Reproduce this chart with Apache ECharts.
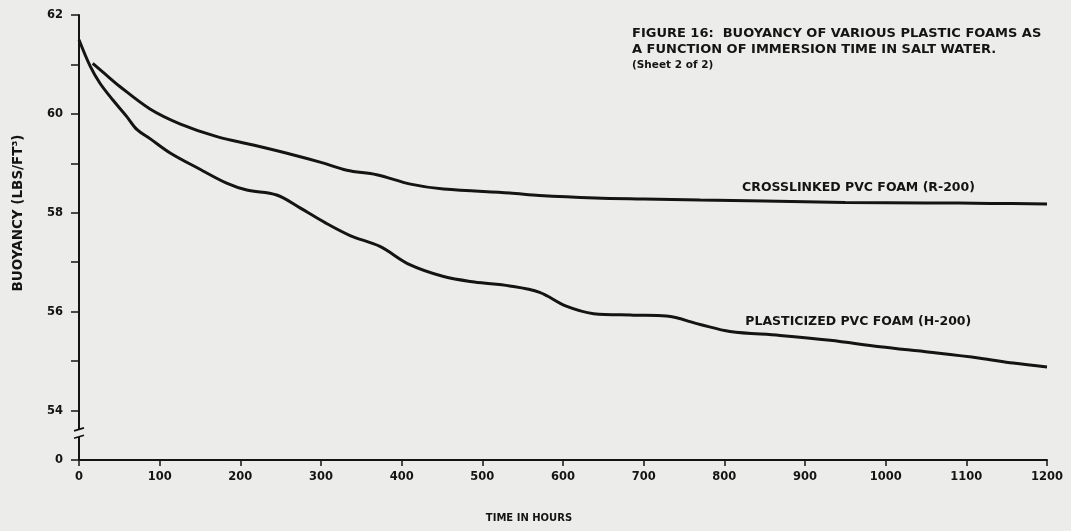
<!DOCTYPE html>
<html>
<head>
<meta charset="utf-8">
<script src="https://cdn.jsdelivr.net/npm/echarts@6/dist/echarts.min.js"></script>
<style>
  html, body { margin: 0; padding: 0; background: #ececea; }
  #chart { width: 1071px; height: 531px; }
</style>
</head>
<body>
<div id="chart"></div>
<script>
// Crosslinked PVC foam (R-200): immersion time (hours) and buoyancy (lbs/ft^3)
const crosslinkedHours = [17, 30, 51, 88, 125, 171, 216, 266, 300, 332, 369, 411, 452, 534, 571, 640, 700, 770, 850, 950, 1050, 1130, 1200];
const crosslinkedBuoyancy = [61.02, 60.84, 60.55, 60.10, 59.80, 59.54, 59.37, 59.17, 59.02, 58.86, 58.77, 58.58, 58.48, 58.40, 58.35, 58.30, 58.28, 58.26, 58.24, 58.21, 58.20, 58.19, 58.18];

// Plasticized PVC foam (H-200)
const plasticizedHours = [0, 14, 26, 42, 59, 72, 88, 113, 150, 183, 208, 245, 274, 305, 336, 373, 410, 452, 490, 534, 571, 604, 638, 687, 728, 770, 807, 869, 931, 993, 1055, 1117, 1158, 1200];
const plasticizedBuoyancy = [61.50, 60.96, 60.62, 60.28, 59.95, 59.68, 59.50, 59.21, 58.88, 58.60, 58.46, 58.36, 58.10, 57.80, 57.54, 57.32, 56.95, 56.71, 56.60, 56.52, 56.39, 56.11, 55.96, 55.93, 55.91, 55.74, 55.60, 55.52, 55.42, 55.29, 55.18, 55.06, 54.96, 54.88];

// Y axis: 54..62 shown, then a broken segment down to the zero slot
const yTickValues = [62, 60, 58, 56, 54, 53];
const yTickLabels = ['62', '60', '58', '56', '54', '0'];
const yZeroSlot = 53;           // axis position that stands for 0 below the break
const yBreakMarks = [53.62, 53.47];

const seriesNames = ['CROSSLINKED PVC FOAM (R-200)', 'PLASTICIZED PVC FOAM (H-200)'];
const seriesLabelAnchors = [[822, 58.50], [826, 55.80]];

const titleText = 'FIGURE 16:  BUOYANCY OF VARIOUS PLASTIC FOAMS AS\nA FUNCTION OF IMMERSION TIME IN SALT WATER.';
const subtitleText = '(Sheet 2 of 2)';
const xAxisName = 'TIME IN HOURS';
const yAxisName = 'BUOYANCY (LBS/FT³)';

const FONT = '"DejaVu Sans", Verdana, sans-serif';
const INK = '#141414';
const PAPER = '#ececea';

function zip(xs, ys) { return xs.map((x, i) => [x, ys[i]]); }

function yLabel(v) {
  const i = yTickValues.indexOf(v);
  return i >= 0 ? yTickLabels[i] : '';
}

function curve(name, data, anchor) {
  return {
    name: name,
    type: 'line',
    data: data,
    smooth: 0.35,
    showSymbol: false,
    lineStyle: { color: INK, width: 3 },
    itemStyle: { color: INK },
    silent: true,
    markPoint: {
      symbol: 'circle',
      symbolSize: 0,
      itemStyle: { color: 'transparent' },
      label: {
        show: true,
        position: 'right',
        distance: 0,
        formatter: name,
        fontFamily: FONT,
        fontWeight: 'bold',
        fontSize: 12.5,
        color: INK
      },
      data: [{ coord: anchor }]
    }
  };
}

const chart = echarts.init(document.getElementById('chart'));

chart.setOption({
  backgroundColor: PAPER,
  animation: false,
  title: {
    text: titleText,
    subtext: subtitleText,
    left: 632,
    top: 26,
    itemGap: 0,
    padding: 0,
    textStyle: { fontFamily: FONT, fontWeight: 'bold', fontSize: 13, lineHeight: 16, color: INK },
    subtextStyle: { fontFamily: FONT, fontWeight: 'bold', fontSize: 10.5, lineHeight: 14, color: INK }
  },
  grid: { left: 79, right: 24, top: 15, bottom: 71 },
  xAxis: {
    type: 'value',
    min: 0,
    max: 1200,
    interval: 100,
    name: xAxisName,
    nameLocation: 'middle',
    nameGap: 53,
    nameTextStyle: { fontFamily: FONT, fontWeight: 'bold', fontSize: 10, color: INK, padding: [0, 68, 0, 0] },
    axisLine: { lineStyle: { color: INK, width: 2 } },
    axisTick: { length: 6, lineStyle: { color: INK, width: 1.5 } },
    axisLabel: {
      margin: 11,
      formatter: v => String(v),
      fontFamily: FONT,
      fontWeight: 'bold',
      fontSize: 11.5,
      color: INK
    },
    splitLine: { show: false }
  },
  yAxis: {
    type: 'value',
    min: yZeroSlot,
    max: 62,
    interval: 1,
    axisLine: { show: true, lineStyle: { color: INK, width: 2 } },
    axisTick: { show: true, length: 8, lineStyle: { color: INK, width: 1.5 } },
    axisLabel: {
      margin: 16,
      formatter: yLabel,
      fontFamily: FONT,
      fontWeight: 'bold',
      fontSize: 11.5,
      color: INK
    },
    splitLine: { show: false }
  },
  series: [
    curve(seriesNames[0], zip(crosslinkedHours, crosslinkedBuoyancy), seriesLabelAnchors[0]),
    curve(seriesNames[1], zip(plasticizedHours, plasticizedBuoyancy), seriesLabelAnchors[1])
  ]
});

// Axis-break symbol on the y axis, plus the rotated y-axis title
const breakUpper = chart.convertToPixel({ gridIndex: 0 }, [0, yBreakMarks[0]]);
const breakLower = chart.convertToPixel({ gridIndex: 0 }, [0, yBreakMarks[1]]);
const axisX = breakUpper[0];
chart.setOption({
  graphic: [
    {
      type: 'rect',
      shape: { x: axisX - 3, y: breakUpper[1], width: 6, height: breakLower[1] - breakUpper[1] },
      style: { fill: PAPER },
      z: 100
    },
    {
      type: 'line',
      shape: { x1: axisX - 5, y1: breakUpper[1] + 1.5, x2: axisX + 5, y2: breakUpper[1] - 1.5 },
      style: { stroke: INK, lineWidth: 1.8 },
      z: 101
    },
    {
      type: 'line',
      shape: { x1: axisX - 5, y1: breakLower[1] + 1.5, x2: axisX + 5, y2: breakLower[1] - 1.5 },
      style: { stroke: INK, lineWidth: 1.8 },
      z: 101
    },
    {
      type: 'text',
      x: 18,
      y: 213,
      rotation: Math.PI / 2,
      style: {
        text: yAxisName,
        fontFamily: FONT,
        fontWeight: 'bold',
        fontSize: 13.5,
        fill: INK,
        align: 'center',
        verticalAlign: 'middle'
      },
      z: 100
    }
  ]
});
</script>
</body>
</html>
